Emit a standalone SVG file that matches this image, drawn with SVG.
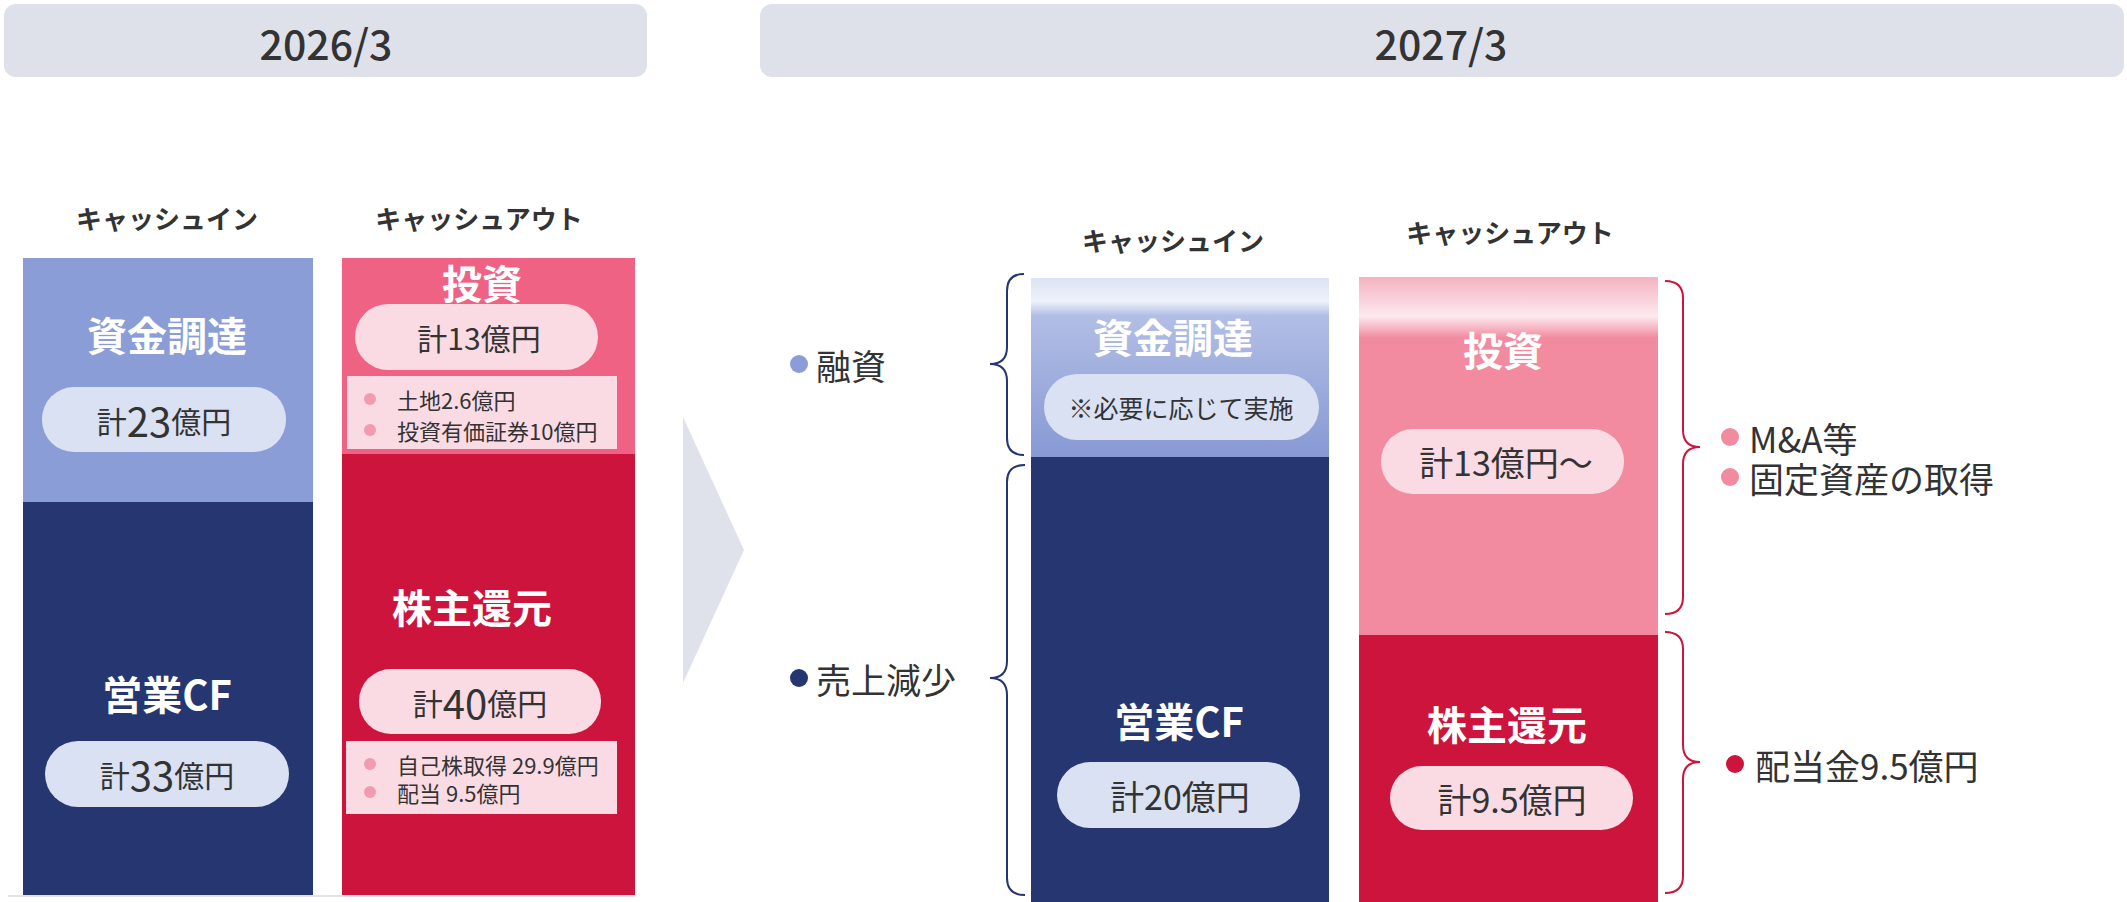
<svg xmlns="http://www.w3.org/2000/svg" width="2127" height="902" viewBox="0 0 2127 902">
<defs>
<linearGradient id="gBlue" x1="0" y1="0" x2="0" y2="1">
<stop offset="0" stop-color="#dde3f3"/>
<stop offset="0.13" stop-color="#eef2f9"/>
<stop offset="0.21" stop-color="#b2bee5"/>
<stop offset="1" stop-color="#8799d4"/>
</linearGradient>
<linearGradient id="gPink" x1="0" y1="0" x2="0" y2="1">
<stop offset="0" stop-color="#f4b2c0"/>
<stop offset="0.11" stop-color="#fde9ef"/>
<stop offset="0.17" stop-color="#f28aa0"/>
<stop offset="1" stop-color="#f28aa0"/>
</linearGradient>
<style>
text{font-family:"Noto Sans CJK JP","Noto Sans",sans-serif;dominant-baseline:central;text-anchor:middle;fill:#333}
.hd{font-size:41px;font-weight:500}
.col{font-size:26px;font-weight:700}
.ttl{font-size:40px;font-weight:700;fill:#fff}
.pt{font-size:30px}
.pr{font-size:34px}
.nt{font-size:22px;text-anchor:start}
.lb{font-size:35px;text-anchor:start}
.pillB{fill:#d9e1f3}
.pillP{fill:#fadbe3}
.brN{fill:none;stroke:#253670;stroke-width:2}
.brC{fill:none;stroke:#cc143c;stroke-width:2}
</style>
</defs>
<rect width="2127" height="902" fill="#fff"/>

<g id="header-2026">
<rect x="4" y="4" width="643" height="73" rx="12" fill="#dfe1ea"/>
<text class="hd" x="326" y="42">2026/3</text>
</g>
<g id="header-2027">
<rect x="760" y="4" width="1364" height="73" rx="12" fill="#dfe1ea"/>
<text class="hd" x="1441" y="42">2027/3</text>
</g>

<g id="labels-2026">
<text class="col" x="167" y="217">キャッシュイン</text>
<text class="col" x="479" y="217">キャッシュアウト</text>
</g>

<line x1="8" y1="896" x2="635" y2="896" stroke="#e3e3e3" stroke-width="2"/>

<g id="node-2026-fund">
<rect x="23" y="258" width="290" height="244" fill="#8a9dd6"/>
<text class="ttl" x="167" y="334">資金調達</text>
<rect class="pillB" x="42" y="387" width="244" height="65" rx="32"/>
<text class="pt" x="164" y="420">計<tspan font-size="40">23</tspan>億円</text>
</g>
<g id="node-2026-opcf">
<rect x="23" y="502" width="290" height="393" fill="#253670"/>
<text class="ttl" x="167" y="693">営業CF</text>
<rect class="pillB" x="45" y="741" width="244" height="66" rx="33"/>
<text class="pt" x="167" y="774">計<tspan font-size="40">33</tspan>億円</text>
</g>
<g id="node-2026-invest">
<rect x="342" y="258" width="293" height="196" fill="#ef6283"/>
<text class="ttl" x="482" y="282">投資</text>
<rect class="pillP" x="355" y="304" width="243" height="66" rx="33"/>
<text class="pt" x="479" y="337">計13億円</text>
<rect x="347" y="376" width="270" height="73" fill="#fadbe3"/>
<circle cx="370" cy="399" r="6" fill="#f29bb0"/>
<circle cx="370" cy="430" r="6" fill="#f29bb0"/>
<text class="nt" x="397" y="399">土地2.6億円</text>
<text class="nt" x="397" y="430">投資有価証券10億円</text>
</g>
<g id="node-2026-return">
<rect x="342" y="454" width="293" height="441" fill="#cc143c"/>
<text class="ttl" x="472" y="606">株主還元</text>
<rect class="pillP" x="359" y="669" width="242" height="65" rx="32"/>
<text class="pt" x="480" y="702">計<tspan font-size="40">40</tspan>億円</text>
<rect x="346" y="741" width="271" height="73" fill="#fadbe3"/>
<circle cx="370" cy="764" r="6" fill="#f29bb0"/>
<circle cx="370" cy="792" r="6" fill="#f29bb0"/>
<text class="nt" x="397" y="764">自己株取得 29.9億円</text>
<text class="nt" x="397" y="792">配当 9.5億円</text>
</g>

<g id="chevron">
<polygon points="683,417 744,550 683,683" fill="#dfe2eb"/>
</g>

<g id="labels-2027">
<text class="col" x="1173" y="239">キャッシュイン</text>
<text class="col" x="1510" y="231">キャッシュアウト</text>
</g>

<g id="node-2027-fund">
<rect x="1031" y="278" width="298" height="179" fill="url(#gBlue)"/>
<text class="ttl" x="1173" y="336">資金調達</text>
<rect class="pillB" x="1044" y="374" width="275" height="66" rx="33"/>
<text x="1181" y="407" font-size="25">※必要に応じて実施</text>
</g>
<g id="node-2027-opcf">
<rect x="1031" y="457" width="298" height="445" fill="#253670"/>
<text class="ttl" x="1179" y="720">営業CF</text>
<rect class="pillB" x="1057" y="762" width="243" height="66" rx="33"/>
<text class="pr" x="1180" y="795">計20億円</text>
</g>
<g id="node-2027-invest">
<rect x="1359" y="277" width="299" height="358" fill="url(#gPink)"/>
<text class="ttl" x="1503" y="349">投資</text>
<rect class="pillP" x="1381" y="429" width="243" height="65" rx="32"/>
<text class="pr" x="1506" y="461">計13億円〜</text>
</g>
<g id="node-2027-return">
<rect x="1359" y="635" width="299" height="267" fill="#cc143c"/>
<text class="ttl" x="1507" y="723">株主還元</text>
<rect class="pillP" x="1390" y="766" width="243" height="64" rx="32"/>
<text class="pr" x="1512" y="798">計9.5億円</text>
</g>

<g id="connectors">
<path class="brN" d="M1024,274 Q1007,274 1007,291 L1007,347 Q1007,364 990,364 Q1007,364 1007,381 L1007,438 Q1007,455 1024,455"/>
<path class="brN" d="M1025,465 Q1007,465 1007,482 L1007,661 Q1007,678 990,678 Q1007,678 1007,695 L1007,878 Q1007,895 1025,895"/>
<path class="brC" d="M1665,281 Q1683,281 1683,298 L1683,430 Q1683,447 1700,447 Q1683,447 1683,464 L1683,597 Q1683,614 1665,614"/>
<path class="brC" d="M1665,632 Q1683,632 1683,649 L1683,745 Q1683,762 1700,762 Q1683,762 1683,779 L1683,876 Q1683,893 1665,893"/>
</g>

<g id="note-loan">
<circle cx="799" cy="364" r="9" fill="#8a9dd6"/>
<text class="lb" x="816" y="364">融資</text>
</g>
<g id="note-sales">
<circle cx="799" cy="678" r="9" fill="#253670"/>
<text class="lb" x="816" y="678">売上減少</text>
</g>
<g id="note-invest">
<circle cx="1730" cy="437" r="9" fill="#f28aa0"/>
<text class="lb" x="1749" y="437">M&amp;A等</text>
<circle cx="1730" cy="477" r="9" fill="#f28aa0"/>
<text class="lb" x="1749" y="477">固定資産の取得</text>
</g>
<g id="note-dividend">
<circle cx="1735" cy="764" r="9" fill="#cc143c"/>
<text class="lb" x="1755" y="764">配当金9.5億円</text>
</g>
</svg>
